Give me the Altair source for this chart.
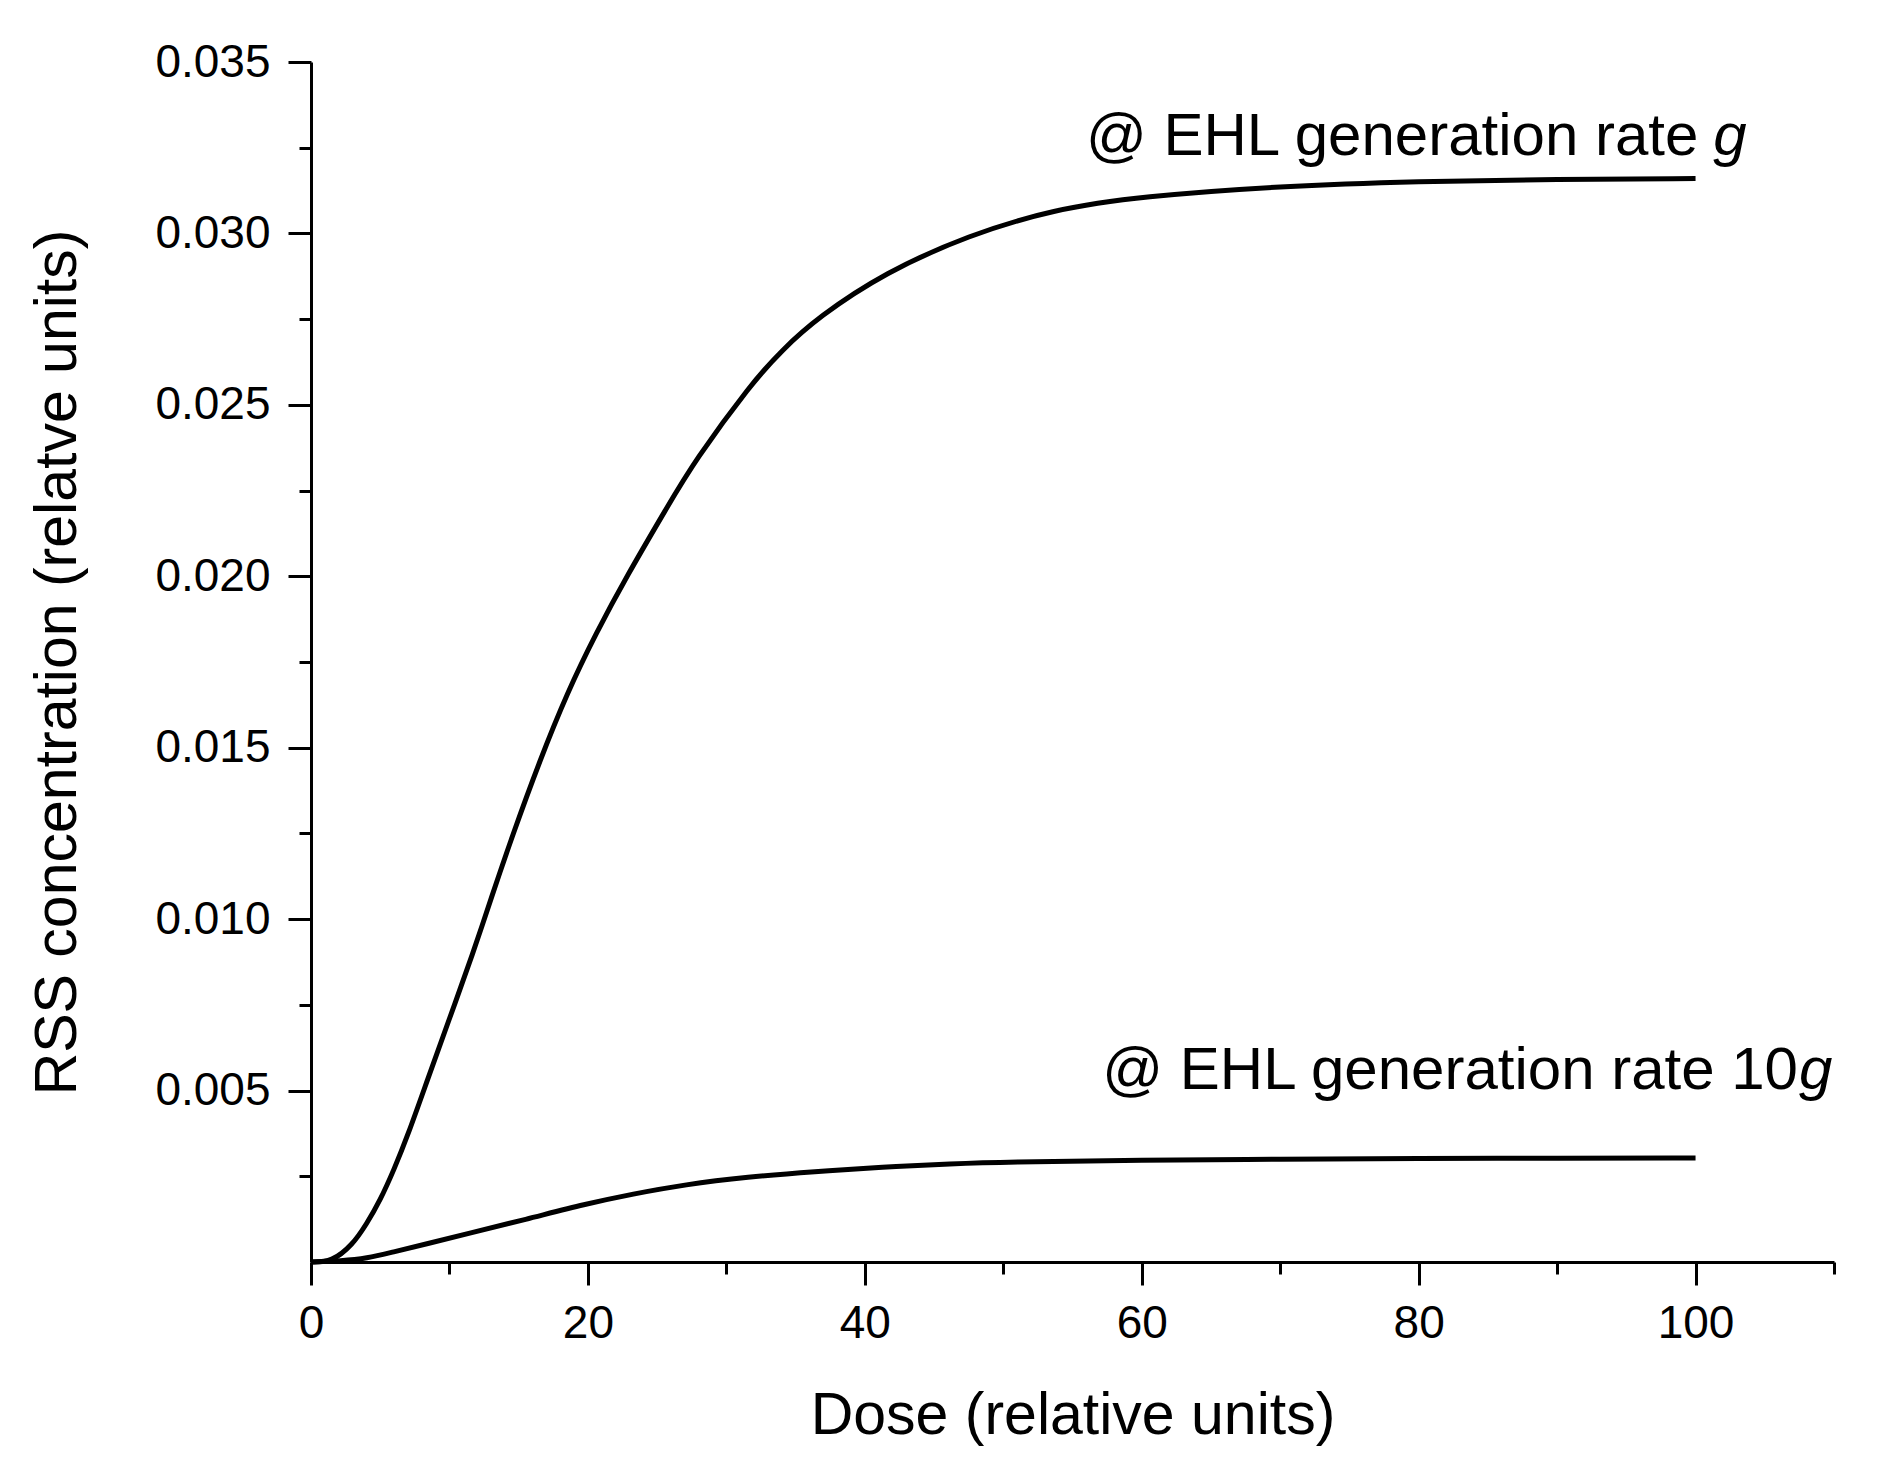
import altair as alt
import pandas as pd

# Upper curve: EHL generation rate g
dose_g = [0, 1.5, 3, 4, 5, 6, 7, 8.4, 10, 11.7, 13, 14.6, 16.5, 18.5, 20.6, 22.8,
          25.7, 27.7, 31.8, 34, 36.6, 41.5, 47.5, 53.6, 60, 70, 80, 90, 100]
rss_g = [0, 0, 0.0005, 0.0011, 0.0018, 0.0027, 0.0037, 0.0053, 0.0071, 0.0090, 0.0106,
         0.0125, 0.0146, 0.0166, 0.01835, 0.0200, 0.0220, 0.02336, 0.02562, 0.02659,
         0.02755, 0.02887, 0.02995, 0.0307, 0.03108, 0.03138, 0.03152, 0.03158, 0.0316]

# Lower curve: EHL generation rate 10g
dose_10g = [0, 2.2, 4, 6, 8.3, 11.5, 15.4, 19.9, 23.2, 27, 31.5, 36.4, 41.2, 46.4, 50,
            60, 70, 80, 90, 100]
rss_10g = [0, 0.00003, 0.0001, 0.0003, 0.00052, 0.00085, 0.00123, 0.00170, 0.00198,
           0.00226, 0.00248, 0.00264, 0.00277, 0.00287, 0.00292, 0.00297, 0.003,
           0.00302, 0.00303, 0.00303]

x_ticks = [0, 10, 20, 30, 40, 50, 60, 70, 80, 90, 100, 110]
y_ticks = [0.0025, 0.005, 0.0075, 0.01, 0.0125, 0.015, 0.0175, 0.02, 0.0225, 0.025,
           0.0275, 0.03, 0.0325, 0.035]

label1 = {"x": 100.2, "y": 0.03228, "text": "@ EHL generation rate", "g": "g"}
label2 = {"x": 107.4, "y": 0.00506, "text": "@ EHL generation rate 10", "g": "g"}

FONT = "Liberation Sans"

df = pd.concat([
    pd.DataFrame({"dose": dose_g, "rss": rss_g, "series": "g"}),
    pd.DataFrame({"dose": dose_10g, "rss": rss_10g, "series": "10g"}),
])

xscale = alt.Scale(domain=[0, 110], nice=False, zero=False)
yscale = alt.Scale(domain=[0, 0.035], nice=False, zero=False)

lines = alt.Chart(df).mark_line(color="black", strokeWidth=5, interpolate="basis").encode(
    x=alt.X("dose:Q", scale=xscale,
            axis=alt.Axis(values=x_ticks, title="Dose (relative units)", labelFlush=False,
                          labelExpr="datum.value % 20 == 0 && datum.value <= 100 ? datum.label : ''",
                          tickSize={"condition": {"test": "datum.value % 20 == 0", "value": 23}, "value": 12},
                          labelPadding=16, titlePadding=40)),
    y=alt.Y("rss:Q", scale=yscale,
            axis=alt.Axis(values=y_ticks, title="RSS concentration (relatve units)", labelFlush=False,
                          labelExpr="round(datum.value*10000) % 50 == 0 ? format(datum.value, '.3f') : ''",
                          tickSize={"condition": {"test": "round(datum.value*10000) % 50 == 0", "value": 23}, "value": 12},
                          labelPadding=18, titlePadding=67)),
    detail="series:N",
)


def ann(label, dx):
    d = pd.DataFrame([label])
    main = alt.Chart(d).mark_text(align="right", baseline="alphabetic", font=FONT,
                                   fontSize=60, color="black").encode(
        x=alt.X("x:Q", scale=xscale), y=alt.Y("y:Q", scale=yscale), text="text:N")
    g = alt.Chart(d).mark_text(align="left", baseline="alphabetic", font=FONT, dx=dx,
                                fontSize=60, fontStyle="italic", color="black").encode(
        x=alt.X("x:Q", scale=xscale), y=alt.Y("y:Q", scale=yscale), text="g:N")
    return [main, g]


chart = alt.layer(lines, *ann(label1, 15), *ann(label2, 1)).properties(
    width=1523, height=1200,
    padding={"left": 20, "top": 31, "right": 10, "bottom": 10},
    background="white",
).configure_view(stroke=None).configure_axis(
    grid=False, domainColor="black", domainWidth=3, tickColor="black", tickWidth=3,
    labelFont=FONT, labelFontSize=46, labelColor="black",
    titleFont=FONT, titleFontSize=59, titleFontWeight="normal", titleColor="black",
)

chart.save("out.html", embed_options={"renderer": "svg", "actions": False})
